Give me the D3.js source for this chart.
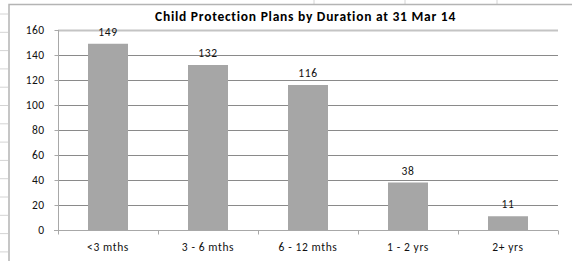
<!DOCTYPE html>
<html><head><meta charset="utf-8">
<script src="https://cdn.jsdelivr.net/npm/d3@7"></script>
<style>
html,body{margin:0;padding:0;background:#fff;}
svg{display:block;}
text{font-family:Carlito,Lato,"Open Sans",sans-serif;}
</style></head>
<body>
<svg id="c" width="572" height="261"></svg>
<script>
const categories = ["<3 mths", "3 - 6 mths", "6 - 12 mths", "1 - 2 yrs", "2+ yrs"];
const values = [149, 132, 116, 38, 11];
const yTicks = [0, 20, 40, 60, 80, 100, 120, 140, 160];
const titleText = "Child Protection Plans by Duration at 31 Mar 14";
const sheetRowLines = [14, 32.3, 50.6, 68.9, 87.2, 105.5, 123.8, 142.1, 160.4, 178.7, 197, 215.3, 233.6, 251.9];
const sheetColLines = [314, 405, 497];

const svg = d3.select("#c");
const W = 572, H = 261;

// spreadsheet background
svg.append("g").selectAll("line").data(sheetRowLines).join("line")
  .attr("x1", 0).attr("x2", 8).attr("y1", d => d).attr("y2", d => d)
  .attr("stroke", "#d4d4d4").attr("stroke-width", 1);
svg.append("g").selectAll("line").data(sheetColLines).join("line")
  .attr("x1", d => d).attr("x2", d => d).attr("y1", 0).attr("y2", 4)
  .attr("stroke", "#d4d4d4").attr("stroke-width", 1);

// chart border
svg.append("path").attr("d", `M9,${H} L9,4.5 L${W},4.5`)
  .attr("fill", "none").attr("stroke", "#b4b4b4").attr("stroke-width", 1.5);

const x = d3.scaleBand().domain(categories).range([58, 558]).paddingInner(0.6).paddingOuter(0.3);
const y = d3.scaleLinear().domain([0, 160]).range([230, 30]);

// gridlines
svg.append("g").selectAll("line").data(yTicks.filter(t => t > 0)).join("line")
  .attr("x1", 58).attr("x2", 558)
  .attr("y1", d => Math.round(y(d)) + 0.5).attr("y2", d => Math.round(y(d)) + 0.5)
  .attr("stroke", d => d === 160 ? "#c4c4c4" : "#8a8a8a")
  .attr("stroke-width", d => d === 160 ? 2 : 1);

// bars
svg.append("g").selectAll("rect").data(values).join("rect")
  .attr("x", (d, i) => x(categories[i]))
  .attr("width", x.bandwidth())
  .attr("y", d => y(d))
  .attr("height", d => y(0) - y(d))
  .attr("fill", "#a6a6a6");

// y axis
const yAxis = d3.axisLeft(y).tickValues(yTicks).tickSize(4).tickPadding(10);
const gy = svg.append("g").attr("transform", "translate(58.5,0)").call(yAxis);
gy.select(".domain").attr("stroke", "#a8a8a8").attr("d", "M0,30V234");
gy.selectAll(".tick line").attr("stroke", "#a8a8a8");
gy.selectAll(".tick text").attr("font-size", 11.5).attr("fill", "#111").attr("letter-spacing", 0.4);

// x axis
const xb = d3.scaleLinear().domain([0, categories.length]).range([58, 558]);
const gx = svg.append("g").attr("transform", "translate(0,230.5)");
gx.append("line").attr("x1", 54).attr("x2", 558).attr("y1", 0).attr("y2", 0).attr("stroke", "#a8a8a8");
gx.selectAll(".tk").data(d3.range(categories.length + 1)).join("line").attr("class", "tk")
  .attr("x1", d => Math.round(xb(d)) + 0.5).attr("x2", d => Math.round(xb(d)) + 0.5)
  .attr("y1", 0).attr("y2", 4).attr("stroke", "#a8a8a8");
gx.selectAll("text").data(categories).join("text")
  .attr("x", d => x(d) + x.bandwidth() / 2).attr("y", 20)
  .attr("text-anchor", "middle").attr("font-size", 11.5).attr("fill", "#111")
  .attr("letter-spacing", 0.6)
  .text(d => d);

// data labels
svg.append("g").selectAll("text").data(values).join("text")
  .attr("x", (d, i) => x(categories[i]) + x.bandwidth() / 2)
  .attr("y", d => y(d) - 8)
  .attr("text-anchor", "middle").attr("font-size", 11.5).attr("fill", "#111")
  .attr("letter-spacing", 0.6)
  .text(d => d);

// title
svg.append("text").attr("x", 305.5).attr("y", 21).attr("text-anchor", "middle")
  .attr("font-size", 13.5).attr("font-weight", "bold").attr("fill", "#000")
  .attr("letter-spacing", 0.75)
  .text(titleText);
</script>
</body></html>
